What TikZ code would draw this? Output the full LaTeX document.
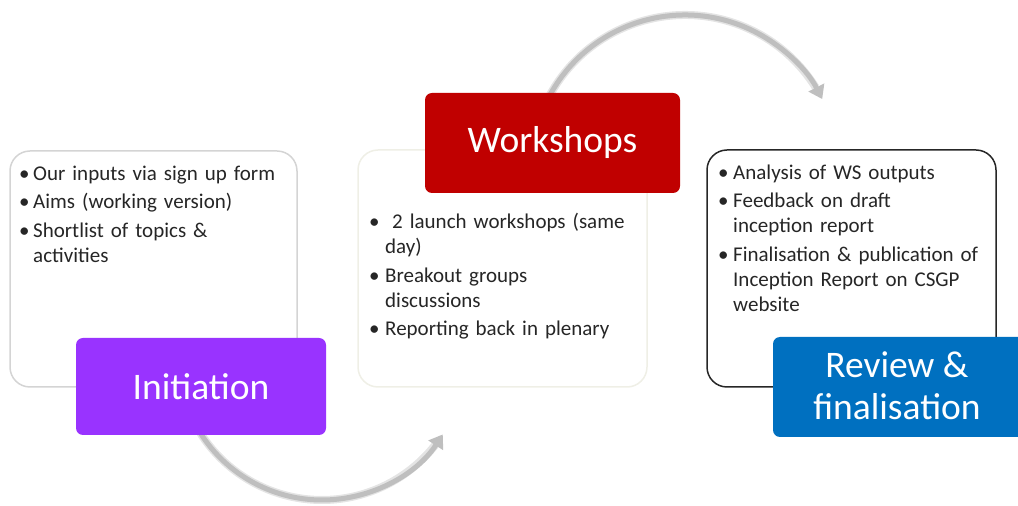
\documentclass[tikz,border=0pt]{standalone}
\usepackage{fontspec}
\setmainfont{Carlito}
\usetikzlibrary{arrows.meta}
\definecolor{txt}{HTML}{262626}
\definecolor{initc}{HTML}{9933FF}
\definecolor{workc}{HTML}{C00000}
\definecolor{revc}{HTML}{0070C0}
\definecolor{arcc}{HTML}{BFBFBF}
\definecolor{arcsh}{HTML}{E4E4E4}
\definecolor{lborder}{HTML}{D4D4D4}
\definecolor{mborder}{HTML}{EFEFE6}
\newcommand{\bitem}[2][14pt]{\setlength{\parskip}{3.5pt}\par\hangindent=#1\hangafter=1\noindent\makebox[#1][l]{\textbullet}#2\par}
\tikzset{
  bigbox/.style={rounded corners=20pt, line width=1.5pt, fill=white},
  titlebox/.style={rounded corners=7pt, inner sep=0pt, text=white, font=\fontsize{37.5}{42}\selectfont, align=center},
  bul/.style={text width=285pt, inner sep=0pt, text=txt, align=left, font=\fontsize{21}{25}\selectfont},
  flow/.style={line width=5pt, draw=arcc, -{Triangle[width=17pt,length=13pt]}},
  flowsh/.style={line width=8pt, draw=arcsh},
}
\begin{document}
\begin{tikzpicture}[x=1pt,y=1pt]
\useasboundingbox (0,0) rectangle (1018,506);
\clip (0,0) rectangle (1018,506);
% arcs
\coordinate (c1) at (322,150);
\coordinate (c2) at (685,337);
\draw[flowsh] ([shift={(212:144)}]c1) arc[start angle=212, end angle=322, radius=144];
\draw[flow] ([shift={(212:144)}]c1) coordinate (a1s) arc[start angle=212, end angle=327, radius=144] coordinate (a1e);
\draw[flowsh] ([shift={(152:154)}]c2) arc[start angle=152, end angle=32, radius=154];
\draw[flow] ([shift={(152:154)}]c2) coordinate (a2s) arc[start angle=152, end angle=27, radius=154] coordinate (a2e);
% content boxes
\draw[bigbox, draw=lborder] (10,119) rectangle (297,355);
\draw[bigbox, draw=mborder] (358,119) rectangle (647,356);
\draw[bigbox, draw=txt] (707,119) rectangle (996,356);
% bullet texts
\node[bul, anchor=base west] (ltext) at (19,354) {\bitem{Our inputs via sign up form}\bitem{Aims (working version)}\bitem{Shortlist of topics \&\newline activities}};
\node[bul, anchor=base west] (mtext) at (369,305.5) {\bitem[16pt]{\ 2 launch workshops (same\newline day)}\bitem[16pt]{Breakout groups\newline discussions}\bitem[16pt]{Reporting back in plenary}};
\node[bul, anchor=base west] (rtext) at (718,355) {\bitem[15pt]{Analysis of WS outputs}\bitem[15pt]{Feedback on draft\newline inception report}\bitem[15pt]{Finalisation \& publication of\newline Inception Report on CSGP\newline website}};
% title boxes
\node[titlebox, fill=initc, minimum width=250pt, minimum height=97pt] (init) at (201,119.5) {Initiation};
\node[titlebox, fill=workc, minimum width=255pt, minimum height=100pt] (work) at (552.5,363) {Workshops};
\fill[revc, rounded corners=7pt] (773,69) rectangle (1040,169);
\node[titlebox, minimum width=245pt, minimum height=100pt] (rev) at (897,120) {Review \&\\finalisation};
\end{tikzpicture}
\end{document}
